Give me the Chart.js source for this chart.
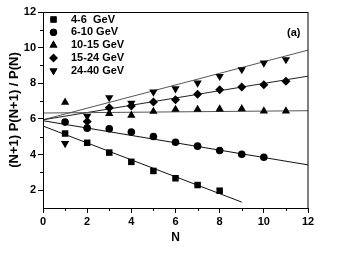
<!DOCTYPE html>
<html>
<head>
<meta charset="utf-8">
<script src="https://cdn.jsdelivr.net/npm/chart.js@4"></script>
<style>
html,body{margin:0;padding:0;background:#fff;}
#c{display:block;}
</style>
</head>
<body>
<canvas id="c" width="338" height="263"></canvas>
<script>
// ---- data ----
const nValues = [1,2,3,4,5,6,7,8,9,10,11];
const labels = ['4-6  GeV','6-10 GeV','10-15 GeV','15-24 GeV','24-40 GeV'];
const s4_6   = [5.18,4.66,4.11,3.59,3.08,2.67,2.29,1.97,null,null,null];
const s6_10  = [5.82,5.48,5.45,5.26,5.01,4.69,4.47,4.23,4.02,3.85,null];
const s10_15 = [6.93,null,6.30,6.20,6.42,6.53,6.53,6.55,6.57,6.44,6.44];
const s15_24 = [null,5.86,6.62,6.72,6.95,7.08,7.38,7.64,7.79,7.92,8.11];
const s24_40 = [4.62,6.15,7.20,6.88,7.51,7.70,8.02,8.39,8.77,9.14,9.33];
// fitted lines: [x, y] end points
const fit4_6   = [[0,5.60],[9,1.33]];
const fit6_10  = [[0,5.90],[12,3.42]];
const fit10_15 = [[0,6.33],[12,6.46]];
const fit15_24 = [[0,5.95],[12,8.40]];
const fit24_40 = [[0,5.95],[12,9.86]];
const xTicks = [0,2,4,6,8,10,12];
const yTicks = [2,4,6,8,10,12];
const xMinor = [1,3,5,7,9,11];
const yMinor = [3,5,7,9,11];

const FONT = "'Liberation Sans', Arial, sans-serif";
const styles = [
  {pointStyle:'rect', radius:4.6, rotation:0},
  {pointStyle:'circle', radius:3.8, rotation:0},
  {pointStyle:'triangle', radius:4.8, rotation:0},
  {pointStyle:'rectRot', radius:4.5, rotation:0},
  {pointStyle:'triangle', radius:4.8, rotation:180}
];
const series = [s4_6, s6_10, s10_15, s15_24, s24_40];
const fits = [fit4_6, fit6_10, fit10_15, fit15_24, fit24_40];
const fitColors = ['#111','#111','#555','#222','#555'];

const datasets = [];
fits.forEach((f,i)=>{
  datasets.push({
    type:'line', label:'fit'+i,
    data:f.map(p=>({x:p[0],y:p[1]})),
    borderColor:fitColors[i], borderWidth:1, pointRadius:0, fill:false, order:10
  });
});
series.forEach((s,i)=>{
  const pts=[];
  s.forEach((v,j)=>{ if(v!==null) pts.push({x:nValues[j],y:v}); });
  datasets.push({
    type:'scatter', label:labels[i], data:pts,
    pointStyle:styles[i].pointStyle, pointRadius:styles[i].radius,
    pointRotation:styles[i].rotation,
    backgroundColor:'#000', borderColor:'#000', borderWidth:0, order:1
  });
});

function drawMarker(ctx, st, x, y){
  ctx.save();
  ctx.fillStyle='#000'; ctx.strokeStyle='#000'; ctx.lineWidth=0;
  Chart.helpers.drawPoint(ctx,{pointStyle:st.pointStyle, rotation:st.rotation, radius:st.radius*0.95, borderWidth:0}, x, y);
  ctx.fill();
  ctx.restore();
}

const deco = {
  id:'deco',
  afterDraw(chart){
    const ctx=chart.ctx, a=chart.chartArea;
    const xs=chart.scales.x, ys=chart.scales.y;
    ctx.save();
    // frame
    ctx.strokeStyle='#000'; ctx.lineWidth=1;
    ctx.strokeRect(Math.round(a.left)+0.5, Math.round(a.top)+0.5, Math.round(a.right-a.left)-0.5, Math.round(a.bottom-a.top));
    // minor ticks
    ctx.beginPath();
    xMinor.forEach(v=>{const px=Math.round(xs.getPixelForValue(v))+0.5; ctx.moveTo(px,a.bottom); ctx.lineTo(px,a.bottom+3);});
    yMinor.forEach(v=>{const py=Math.round(ys.getPixelForValue(v))+0.5; ctx.moveTo(a.left,py); ctx.lineTo(a.left-3,py);});
    ctx.stroke();
    // legend
    ctx.font="bold 11px "+FONT; ctx.fillStyle='#000'; ctx.textBaseline='middle'; ctx.textAlign='left';
    labels.forEach((t,i)=>{
      const y=19.5+i*12.8;
      drawMarker(ctx, styles[i], 53.5, y);
      ctx.fillStyle='#000';
      ctx.fillText(t, 71, y);
    });
    // panel label
    ctx.fillText('(a)', 287, 33);
    // axis titles
    ctx.font="bold 12px "+FONT; ctx.textAlign='center';
    ctx.fillText('N', (a.left+a.right)/2, 238);
    ctx.font="bold 13px "+FONT;
    ctx.translate(14,(a.top+a.bottom)/2);
    ctx.rotate(-Math.PI/2);
    ctx.fillText('(N+1) P(N+1) / P(N)',0,0);
    ctx.restore();
  }
};

new Chart(document.getElementById('c'),{
  data:{datasets},
  options:{
    responsive:false, animation:false, devicePixelRatio:1,
    layout:{padding:{left:0,top:12,right:30,bottom:0}},
    plugins:{legend:{display:false}, tooltip:{enabled:false}},
    scales:{
      x:{type:'linear', min:0, max:12,
        afterBuildTicks(s){ s.ticks = xTicks.map(v=>({value:v})); },
        afterFit(s){ s.height=55; },
        grid:{drawOnChartArea:false, drawTicks:true, tickLength:5, color:'#000'},
        border:{display:true,color:'#000',width:1},
        ticks:{color:'#000', padding:2, maxRotation:0, font:{family:FONT, weight:'bold', size:11}}
      },
      y:{type:'linear', min:1, max:12,
        afterBuildTicks(s){ s.ticks = yTicks.map(v=>({value:v})); },
        afterFit(s){ s.width=43; },
        grid:{drawOnChartArea:false, drawTicks:true, tickLength:5, color:'#000'},
        border:{display:true,color:'#000',width:1},
        ticks:{color:'#000', padding:2, font:{family:FONT, weight:'bold', size:11}}
      }
    }
  },
  plugins:[deco]
});
</script>
</body>
</html>
